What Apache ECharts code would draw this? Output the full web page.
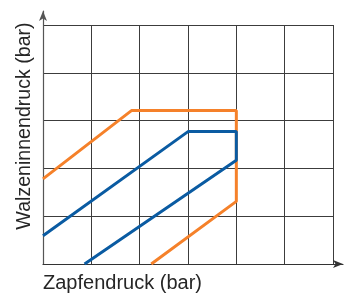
<!DOCTYPE html>
<html>
<head>
<meta charset="utf-8">
<script src="https://cdn.jsdelivr.net/npm/echarts@6/dist/echarts.min.js"></script>
<style>html,body{margin:0;padding:0;background:#fff}#c{width:345px;height:293px}</style>
</head>
<body>
<div id="c"></div>
<script>
// Data (grid units)
var xAxisName = 'Zapfendruck (bar)';
var yAxisName = 'Walzeninnendruck (bar)';
var orangeX = [0, 1.83, 4, 4, 2.24];
var orangeY = [1.78, 3.21, 3.21, 1.31, 0];
var blueX = [0, 3, 4, 4, 0.86];
var blueY = [0.59, 2.77, 2.77, 2.17, 0];
var xMax = 6, yMax = 5;

function pairs(xs, ys) { return xs.map(function (x, i) { return [x, ys[i]]; }); }

var chart = echarts.init(document.getElementById('c'), null, {renderer: 'canvas'});
var gridColor = '#3c3c3c';
chart.setOption({
  animation: false,
  backgroundColor: '#ffffff',
  grid: [
    {left: 43, right: 12, top: 25, bottom: 29},
    {left: 43, right: 2, top: 11, bottom: 29}
  ],
  xAxis: [
    {gridIndex: 0, type: 'value', min: 0, max: xMax, interval: 1,
     axisLine: {show: false}, axisTick: {show: false}, axisLabel: {show: false},
     splitLine: {show: true, lineStyle: {color: gridColor, width: 1}}},
    {gridIndex: 1, type: 'value', min: 0, max: 1,
     axisLine: {show: true, symbol: ['none', 'arrow'], symbolSize: [6, 10], lineStyle: {color: '#333', width: 1.2}},
     axisTick: {show: false}, axisLabel: {show: false}, splitLine: {show: false}}
  ],
  yAxis: [
    {gridIndex: 0, type: 'value', min: 0, max: yMax, interval: 1,
     axisLine: {show: false}, axisTick: {show: false}, axisLabel: {show: false},
     splitLine: {show: true, lineStyle: {color: gridColor, width: 1}}},
    {gridIndex: 1, type: 'value', min: 0, max: 1,
     axisLine: {show: true, symbol: ['none', 'arrow'], symbolSize: [6, 10], lineStyle: {color: '#555', width: 1.2}},
     axisTick: {show: false}, axisLabel: {show: false}, splitLine: {show: false}}
  ],
  series: [
    {type: 'line', xAxisIndex: 0, yAxisIndex: 0, data: pairs(orangeX, orangeY),
     showSymbol: false, symbol: 'none', lineStyle: {color: '#f5812a', width: 3}, z: 3},
    {type: 'line', xAxisIndex: 0, yAxisIndex: 0, data: pairs(blueX, blueY),
     showSymbol: false, symbol: 'none', lineStyle: {color: '#0a5ba2', width: 3}, z: 3}
  ],
  graphic: [
    {type: 'text', left: 43, top: 273,
     style: {text: xAxisName, font: '20px "Liberation Sans", Arial, sans-serif', fill: '#262626'}},
    {type: 'text', x: 25, y: 126, rotation: Math.PI / 2,
     style: {text: yAxisName, font: '19.6px "Liberation Sans", Arial, sans-serif', fill: '#262626',
             align: 'center', verticalAlign: 'middle'}}
  ]
});
</script>
</body>
</html>
